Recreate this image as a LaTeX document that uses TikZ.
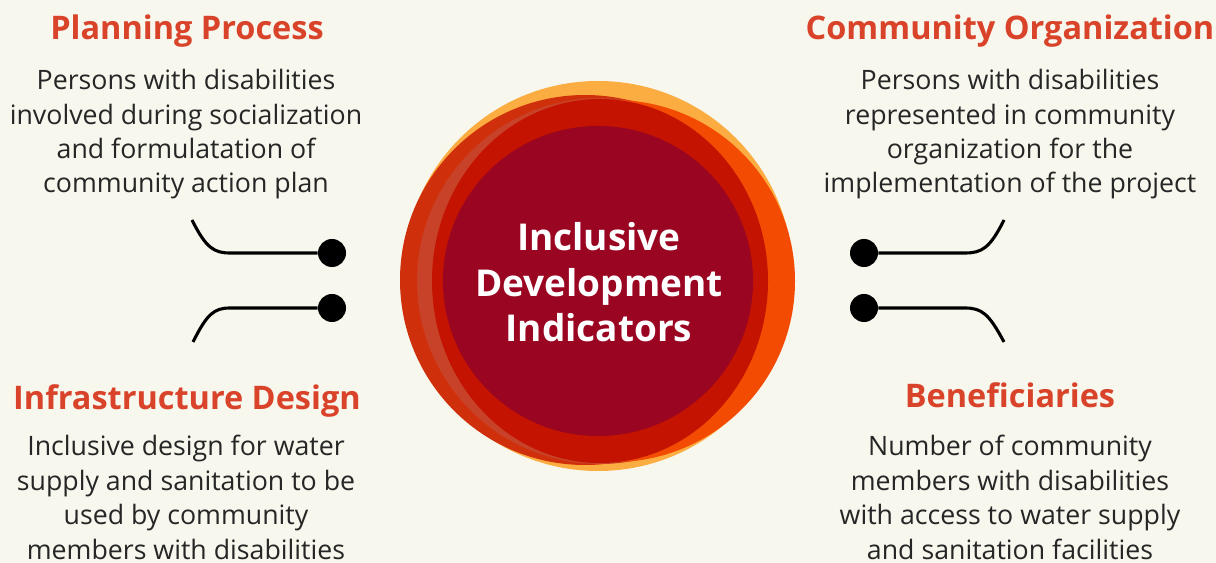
\documentclass[tikz,border=0pt]{standalone}
\usepackage{fontspec}
\setmainfont{Open Sans}
\usepackage{tikz}
\usetikzlibrary{positioning}
\definecolor{bgcream}{HTML}{F7F7EE}
\definecolor{ringyellow}{HTML}{FCAD41}
\definecolor{ringdark}{HTML}{CF300B}
\definecolor{ringpink}{HTML}{C84229}
\definecolor{ringorange}{HTML}{F44B02}
\definecolor{ringred}{HTML}{C41300}
\definecolor{crimson}{HTML}{9A0522}
\definecolor{headred}{HTML}{D9432A}
\definecolor{bodygray}{HTML}{262626}
\tikzset{
  head/.style={anchor=base, text=headred, font=\fontsize{23.1}{27}\selectfont\bfseries, inner sep=0pt},
  body/.style={anchor=base, align=center, text=bodygray, font=\fontsize{19}{24.5}\selectfont, inner sep=0pt},
  knob/.style={circle, fill=black, minimum size=0.7cm, inner sep=0pt},
  wire/.style={line width=2.2pt}
}
\begin{document}
\begin{tikzpicture}[x=0.025cm, y=-0.025cm]
  \fill[bgcream] (0,0) rectangle (1216,563);
  \useasboundingbox (0,0) rectangle (1216,563);
  % rings behind the centre
  \fill[ringyellow] (598,276) circle[radius=195];
  \fill[ringdark] (585,280) circle[radius=185];
  \fill[ringpink] (600,281) circle[radius=183];
  \fill[ringorange] (614,281) circle[radius=181];
  \fill[ringred] (600,281) ellipse[x radius=168, y radius=182];
  \node[circle, fill=crimson, minimum size=7.75cm, inner sep=0pt] (core) at (598,281) {};
  % base of a multi-line node = its last line
  \node[anchor=base, align=center, text=white, inner sep=0pt,
        font=\fontsize{26.3}{32.4}\selectfont\bfseries] (title) at (599,342)
        {Inclusive\\Development\\Indicators};

  % four topics
  \node[head] (plan) at (187,40) {Planning Process};
  \node[body] (plantxt) at (186,193) {Persons with disabilities\\involved during socialization\\and formulatation of\\community action plan};
  \node[head] (org) at (1010,40) {Community Organization};
  \node[body] (orgtxt) at (1010,193) {Persons with disabilities\\represented in community\\organization for the\\implementation of the project};
  \node[head] (infra) at (187,409) {Infrastructure Design};
  \node[body] (infratxt) at (186,559) {Inclusive design for water\\supply and sanitation to be\\used by community\\members with disabilities};
  \node[head] (benef) at (1010,408) {Beneficiaries};
  \node[body] (beneftxt) at (1010,559) {Number of community\\members with disabilities\\with access to water supply\\and sanitation facilities};

  % connectors
  \foreach \n/\x/\y in {k1/332/253, k2/332/308, k3/864/253, k4/864/308}
    \node[knob] (\n) at (\x,\y) {};
  \coordinate (e1) at (192,220); \coordinate (b1) at (230,253);
  \coordinate (e2) at (193,342); \coordinate (b2) at (230,308);
  \coordinate (e3) at (1004,220); \coordinate (b3) at (965,253);
  \coordinate (e4) at (1004,342); \coordinate (b4) at (965,308);
  \draw[wire] (e1) .. controls (206,248) and (214,253) .. (b1) -- (k1);
  \draw[wire] (e2) .. controls (207,314) and (214,308) .. (b2) -- (k2);
  \draw[wire] (e3) .. controls (990,248) and (982,253) .. (b3) -- (k3);
  \draw[wire] (e4) .. controls (989,314) and (982,308) .. (b4) -- (k4);
\end{tikzpicture}
\end{document}
